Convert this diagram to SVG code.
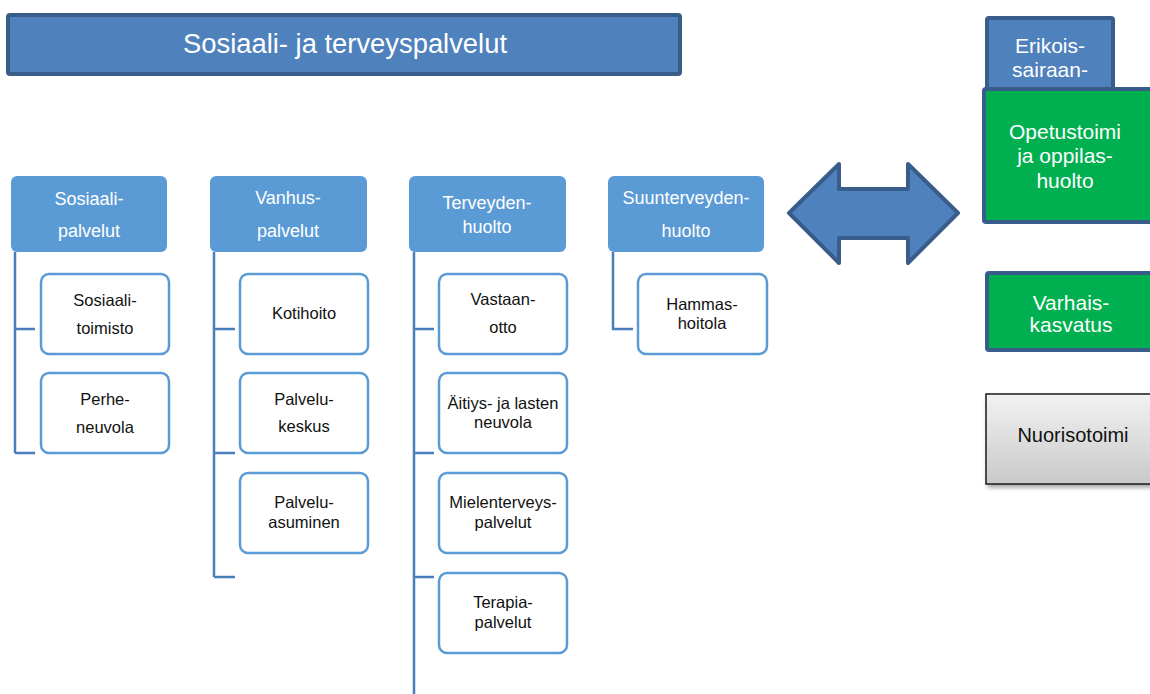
<svg xmlns="http://www.w3.org/2000/svg" width="1150" height="694" viewBox="0 0 1150 694">
<defs>
<linearGradient id="gray" x1="0" y1="0" x2="0" y2="1">
<stop offset="0" stop-color="#F2F2F2"/>
<stop offset="1" stop-color="#C9C9C9"/>
</linearGradient>
<filter id="shadow" x="-10%" y="-10%" width="130%" height="140%">
<feDropShadow dx="2" dy="3" stdDeviation="2" flood-color="#000" flood-opacity="0.35"/>
</filter>
</defs>
<style>
.hdr{fill:#5B9BD5;stroke:none}
.child{fill:#FFFFFF;stroke:#5B9BD5;stroke-width:2.5}
.conn{fill:none;stroke:#4A7EBB;stroke-width:2.5}
.ht{font-family:"Liberation Sans",Arial,sans-serif;font-size:18px;fill:#FFFFFF;text-anchor:middle}
.ct{font-family:"Liberation Sans",Arial,sans-serif;font-size:16.5px;fill:#111111;text-anchor:middle}
.big{fill:#4F81BD;stroke:#385D8A;stroke-width:4}
.green{fill:#00B050;stroke:#385D8A;stroke-width:4}
.rt{font-family:"Liberation Sans",Arial,sans-serif;font-size:21px;fill:#FFFFFF;text-anchor:middle}
</style>
<rect width="1150" height="694" fill="#FFFFFF"/>

<g id="title">
<rect class="big" x="8" y="15" width="672" height="59" rx="2"/>
<text x="345" y="53" font-family="Liberation Sans, Arial, sans-serif" font-size="27" fill="#FFFFFF" text-anchor="middle" textLength="324" lengthAdjust="spacingAndGlyphs">Sosiaali- ja terveyspalvelut</text>
</g>

<g id="connectors">
<path class="conn" d="M15 252 V453 M15 329 H35 M15 453 H35"/>
<path class="conn" d="M214 252 V577 M214 329 H235 M214 453 H235 M214 577 H235"/>
<path class="conn" d="M414 252 V694 M414 329 H434 M414 453 H434 M414 577 H434"/>
<path class="conn" d="M613 252 V329 H633"/>
</g>

<g id="h-sosiaali">
<rect class="hdr" x="11" y="176" width="156" height="76" rx="6"/>
<text class="ht" x="89" y="205">Sosiaali-</text>
<text class="ht" x="89" y="237">palvelut</text>
</g>
<g id="h-vanhus">
<rect class="hdr" x="210" y="176" width="157" height="76" rx="6"/>
<text class="ht" x="288" y="204">Vanhus-</text>
<text class="ht" x="288" y="237">palvelut</text>
</g>
<g id="h-terveyden">
<rect class="hdr" x="409" y="176" width="157" height="76" rx="6"/>
<text class="ht" x="487" y="209">Terveyden-</text>
<text class="ht" x="487" y="233">huolto</text>
</g>
<g id="h-suun">
<rect class="hdr" x="608" y="176" width="156" height="76" rx="6"/>
<text class="ht" x="686" y="204">Suunterveyden-</text>
<text class="ht" x="686" y="237">huolto</text>
</g>

<g id="c-sosiaalitoimisto">
<rect class="child" x="41" y="274" width="128" height="80" rx="8"/>
<text class="ct" x="105" y="306">Sosiaali-</text>
<text class="ct" x="105" y="334">toimisto</text>
</g>
<g id="c-perheneuvola">
<rect class="child" x="41" y="373" width="128" height="80" rx="8"/>
<text class="ct" x="105" y="405">Perhe-</text>
<text class="ct" x="105" y="433">neuvola</text>
</g>

<g id="c-kotihoito">
<rect class="child" x="240" y="274" width="128" height="80" rx="8"/>
<text class="ct" x="304" y="319">Kotihoito</text>
</g>
<g id="c-palvelukeskus">
<rect class="child" x="240" y="373" width="128" height="80" rx="8"/>
<text class="ct" x="304" y="405">Palvelu-</text>
<text class="ct" x="304" y="432">keskus</text>
</g>
<g id="c-palveluasuminen">
<rect class="child" x="240" y="473" width="128" height="80" rx="8"/>
<text class="ct" x="304" y="508">Palvelu-</text>
<text class="ct" x="304" y="528">asuminen</text>
</g>

<g id="c-vastaanotto">
<rect class="child" x="439" y="274" width="128" height="80" rx="8"/>
<text class="ct" x="503" y="305">Vastaan-</text>
<text class="ct" x="503" y="333">otto</text>
</g>
<g id="c-aitiys">
<rect class="child" x="439" y="373" width="128" height="80" rx="8"/>
<text class="ct" x="503" y="409">Äitiys- ja lasten</text>
<text class="ct" x="503" y="428">neuvola</text>
</g>
<g id="c-mielenterveys">
<rect class="child" x="439" y="473" width="128" height="80" rx="8"/>
<text class="ct" x="503" y="508">Mielenterveys-</text>
<text class="ct" x="503" y="528">palvelut</text>
</g>
<g id="c-terapia">
<rect class="child" x="439" y="573" width="128" height="80" rx="8"/>
<text class="ct" x="503" y="608">Terapia-</text>
<text class="ct" x="503" y="628">palvelut</text>
</g>

<g id="c-hammashoitola">
<rect class="child" x="638" y="274" width="129" height="80" rx="8"/>
<text class="ct" x="702" y="310">Hammas-</text>
<text class="ct" x="702" y="329">hoitola</text>
</g>

<g id="double-arrow">
<polygon class="big" stroke-linejoin="round" points="789,213 839,164 839,189 908,189 908,164 958,213 908,263 908,238 839,238 839,263"/>
</g>

<g id="erikoissairaanhoito">
<rect class="big" x="987" y="18" width="126" height="90" rx="2"/>
<text class="rt" x="1050" y="53">Erikois-</text>
<text class="rt" x="1050" y="77">sairaan-</text>
<text class="rt" x="1050" y="103">hoito</text>
</g>

<g id="opetustoimi">
<rect class="green" x="984" y="89" width="168" height="133" rx="2"/>
<text class="rt" x="1065" y="139">Opetustoimi</text>
<text class="rt" x="1065" y="163">ja oppilas-</text>
<text class="rt" x="1065" y="188">huolto</text>
</g>

<g id="varhaiskasvatus">
<rect class="green" x="987" y="273" width="170" height="77" rx="2"/>
<text class="rt" x="1071" y="310">Varhais-</text>
<text class="rt" x="1071" y="332">kasvatus</text>
</g>

<g id="nuorisotoimi">
<rect x="986" y="394" width="176" height="90" fill="url(#gray)" stroke="#1A1A1A" stroke-width="1.5" filter="url(#shadow)"/>
<text x="1073" y="442" font-family="Liberation Sans, Arial, sans-serif" font-size="20" fill="#111111" text-anchor="middle">Nuorisotoimi</text>
</g>
</svg>
